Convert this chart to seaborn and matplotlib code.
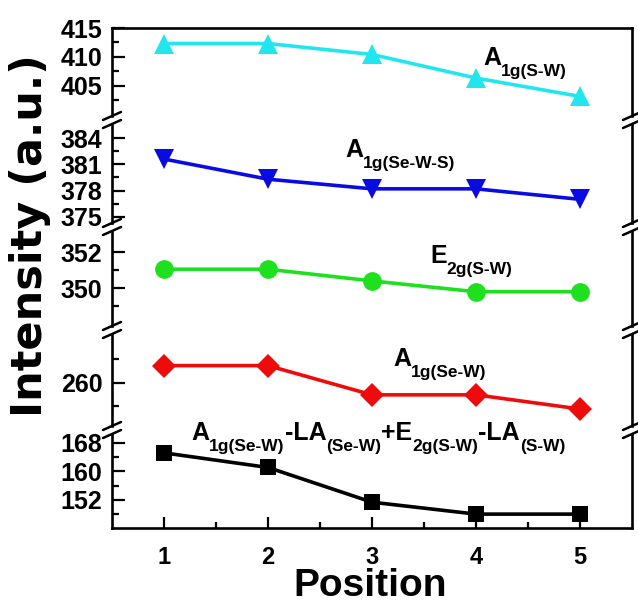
import numpy as np
import pandas as pd
import matplotlib
matplotlib.use('Agg')
import matplotlib.pyplot as plt
import seaborn as sns
from matplotlib.lines import Line2D

# data
position = [1, 2, 3, 4, 5]
a1g_sw = [412.3, 412.3, 410.4, 406.3, 403.1]
a1g_sews = [381.6, 379.3, 378.2, 378.2, 377.0]
e2g_sw = [351.05, 351.05, 350.4, 349.8, 349.8]
a1g_sew = [263.6, 263.6, 257.4, 257.4, 254.4]
combo = [165.2, 161.1, 151.35, 148.0, 148.0]

# labels as (text, is_subscript) pieces
lab_a1g_sw = [("A", False), ("1g(S-W)", True)]
lab_a1g_sews = [("A", False), ("1g(Se-W-S)", True)]
lab_e2g_sw = [("E", False), ("2g(S-W)", True)]
lab_a1g_sew = [("A", False), ("1g(Se-W)", True)]
lab_combo = [("A", False), ("1g(Se-W)", True), ("-LA", False), ("(Se-W)", True),
             ("+E", False), ("2g(S-W)", True), ("-LA", False), ("(S-W)", True)]

sns.set_theme(style='white')
plt.rcParams['font.family'] = ['Liberation Sans', 'DejaVu Sans']
plt.rcParams['font.weight'] = 'bold'
for k in ['text.color', 'axes.labelcolor', 'xtick.color', 'ytick.color', 'axes.edgecolor']:
    plt.rcParams[k] = 'black'

W, H = 638, 603
panels = [
    dict(y=a1g_sw, c='#22E6EE', m='^', ms=15, ylim=(399.7, 415.0),
         major=[405, 410, 415], minor=[402.5, 407.5, 412.5],
         lab=lab_a1g_sw, lx=483, ly=65),
    dict(y=a1g_sews, c='#0A0AE2', m='v', ms=15, ylim=(374.3, 385.6),
         major=[375, 378, 381, 384], minor=[376.5, 379.5, 382.5],
         lab=lab_a1g_sews, lx=345, ly=157),
    dict(y=e2g_sw, c='#1EE01E', m='o', ms=13.5, ylim=(347.9, 353.17),
         major=[350, 352], minor=[349, 351],
         lab=lab_e2g_sw, lx=430, ly=263),
    dict(y=a1g_sew, c='#EE0B0B', m='D', ms=12, ylim=(250.8, 270.3),
         major=[260], minor=[255, 265],
         lab=lab_a1g_sew, lx=393, ly=366),
    dict(y=combo, c='black', m='s', ms=12, ylim=(144.1, 170.5),
         major=[152, 160, 168], minor=[148, 156, 164],
         lab=lab_combo, lx=191, ly=440),
]

fig, axes = plt.subplots(nrows=5, ncols=1, sharex=True, figsize=(W / 100, H / 100), dpi=100,
                         gridspec_kw=dict(height_ratios=[88, 99, 95, 92, 94], hspace=0.0855))
fig.subplots_adjust(left=112 / W, right=632 / W, top=1 - 28 / H, bottom=1 - 528 / H)
renderer = fig.canvas.get_renderer()


def rich_label(x, y, pieces):
    # main letters at 18pt, subscripts smaller and dropped below the baseline
    for s, sub in pieces:
        t = fig.text(x / W, 1 - (y + (11 if sub else 0)) / H, s,
                     fontsize=12.5 if sub else 18, fontweight='bold',
                     ha='left', va='baseline')
        x += t.get_window_extent(renderer).width


for ax, p in zip(axes, panels):
    df = pd.DataFrame({'Position': position, 'Intensity': p['y']})
    sns.lineplot(data=df, x='Position', y='Intensity', ax=ax, color=p['c'], lw=2.6,
                 marker=p['m'], markersize=p['ms'], markeredgewidth=0, markeredgecolor=p['c'])
    ax.set_ylim(*p['ylim'])
    ax.set_yticks(p['major'])
    ax.set_yticks(p['minor'], minor=True)
    ax.set_ylabel('')
    ax.set_xlabel('')
    for s in ax.spines.values():
        s.set_linewidth(1.9)
        s.set_color('black')
    ax.spines['top'].set_visible(False)
    ax.spines['bottom'].set_visible(False)
    ax.tick_params(axis='y', which='both', direction='in', left=True, right=False,
                   width=1.6, color='black', labelsize=18, pad=7)
    ax.tick_params(axis='y', which='major', length=9)
    ax.tick_params(axis='y', which='minor', length=5)
    ax.tick_params(axis='x', which='both', bottom=False, labelbottom=False)
    for t in ax.get_yticklabels():
        t.set_fontweight('bold')
    rich_label(p['lx'], p['ly'], p['lab'])

axes[0].spines['top'].set_visible(True)
bx = axes[-1]
bx.spines['bottom'].set_visible(True)
bx.set_xlim(0.5, 5.5)
bx.set_xticks(position)
bx.set_xticks([1.5, 2.5, 3.5, 4.5], minor=True)
bx.tick_params(axis='x', which='both', direction='in', bottom=True, labelbottom=True,
               width=1.6, color='black', labelsize=17, pad=13)
bx.tick_params(axis='x', which='major', length=8)
bx.tick_params(axis='x', which='minor', length=4.5)
for t in bx.get_xticklabels():
    t.set_fontweight('bold')

# axis break marks on both vertical spines
for upper, lower in zip(axes[:-1], axes[1:]):
    for yb in (upper.get_position().y0, lower.get_position().y1):
        for xs in (112 / W, 632 / W):
            fig.add_artist(Line2D([xs - 9 / W, xs + 9 / W], [yb - 4 / H, yb + 4 / H],
                                  transform=fig.transFigure, color='black', lw=1.8))

fig.text(370 / W, 1 - 586 / H, 'Position', fontsize=28, fontweight='bold',
         ha='center', va='center')
fig.text(30 / W, 1 - 236 / H, 'Intensity (a.u.)', fontsize=31, fontweight='bold',
         family='DejaVu Sans', rotation=90, ha='center', va='center')

fig.savefig('out.png', dpi=100)
